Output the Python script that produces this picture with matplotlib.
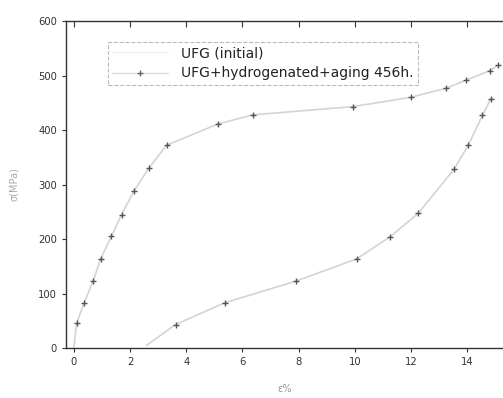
import numpy as np
import matplotlib
matplotlib.use('Agg')
import matplotlib.pyplot as plt
from matplotlib import lines as mlines

# stress-strain curves
eps_init = [0.0, 0.1, 0.37, 0.69, 0.96, 1.34, 1.70, 2.15, 2.67, 3.30, 5.12, 6.38,
            9.92, 11.98, 13.26, 13.97, 14.80, 15.10]
sig_init = [0, 45, 83, 123, 164, 205, 245, 289, 330, 372, 411, 428,
            443, 460, 477, 492, 509, 519]

eps_h = [2.59, 3.62, 5.37, 7.92, 10.08, 11.25, 12.25, 13.53, 14.03, 14.54, 14.83]
sig_h = [5, 43, 83, 123, 164, 204, 247, 328, 372, 427, 457]

labels = ['UFG (initial)', 'UFG+hydrogenated+aging 456h.']
xticks = [0, 2, 4, 6, 8, 10, 12, 14]
yticks = [0, 100, 200, 300, 400, 500, 600]

plt.rcParams['font.family'] = ['DejaVu Sans']

fig = plt.figure(figsize=(5.03, 3.98), dpi=100)
ax = fig.add_axes([0.131, 0.1256, 0.869, 0.8214])

ax.plot(eps_init, sig_init, '-', color='#d4d4d4', linewidth=1.2)
ax.plot(eps_init[1:], sig_init[1:], '+', color='#555555', markersize=5,
        markeredgewidth=1.0)
ax.plot(eps_h, sig_h, '-', color='#d4d4d4', linewidth=1.2)
ax.plot(eps_h[1:], sig_h[1:], '+', color='#555555', markersize=5,
        markeredgewidth=1.0)

# legend handles
h1, = ax.plot([], [], '-', color='#f0f0f0', linewidth=1)
h2, = ax.plot([], [], '-+', color='#dddddd', markeredgecolor='#666666',
              markersize=5, linewidth=1)
leg = ax.legend([h1, h2], labels, loc='upper left',
                bbox_to_anchor=(0.096, 0.936), fontsize=10, frameon=True,
                fancybox=False, handlelength=4.0, borderpad=0.3,
                labelspacing=0.45, handletextpad=1.0, borderaxespad=0)
leg.get_frame().set_edgecolor('#aaaaaa')
leg.get_frame().set_linestyle('--')
leg.get_frame().set_linewidth(0.8)
for t in leg.get_texts():
    t.set_color('#222222')

ax.set_xlim(-0.28, 15.27)
ax.set_ylim(0, 600)
ax.set_xticks(xticks)
ax.set_yticks(yticks)
ax.tick_params(axis='both', labelsize=7.2, length=3, width=0.8, colors='#333333')
ax.tick_params(axis='x', top=True)
for tk in ax.xaxis.get_major_ticks():
    tk.tick2line.set_marker(mlines.TICKDOWN)
    tk.tick2line.set_color('#555555')
    tk.tick2line.set_markersize(4)
ax.spines['right'].set_visible(False)
for s in ['left', 'bottom', 'top']:
    ax.spines[s].set_color('#333333')
    ax.spines[s].set_linewidth(1.0)

ax.set_xlabel('ε%', fontsize=7, color='#999999', labelpad=12)
ax.set_ylabel('σ(MPa)', fontsize=7, color='#aaaaaa', labelpad=14)

plt.savefig('out.png', dpi=100)
